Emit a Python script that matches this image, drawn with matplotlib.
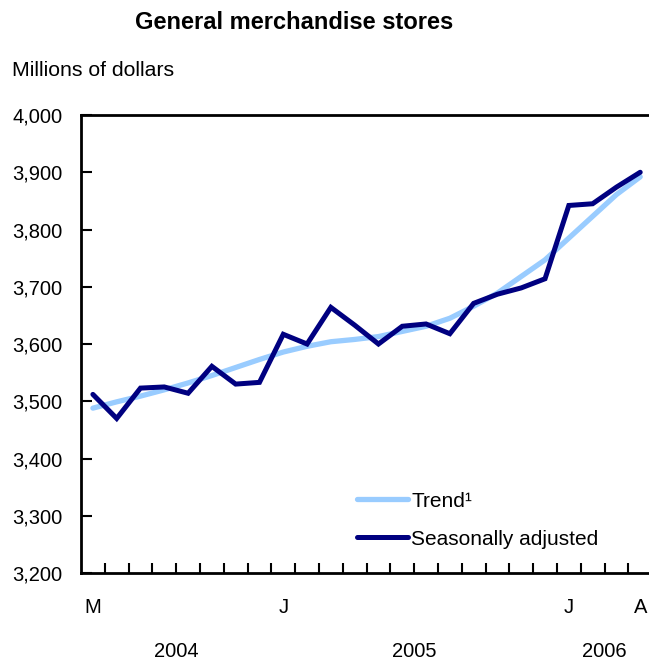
import numpy as np
import matplotlib.pyplot as plt

plt.rcParams['font.family'] = ['Liberation Sans', 'DejaVu Sans']

# May 2004 .. April 2006
months = np.arange(24)
trend = [3488, 3499, 3509, 3520, 3532, 3545, 3559, 3573, 3586, 3596, 3604, 3608,
         3613, 3622, 3631, 3645, 3666, 3689, 3718, 3747, 3785, 3823, 3861, 3892]
seas_adj = [3512, 3470, 3523, 3525, 3514, 3561, 3530, 3533, 3617, 3600, 3664, 3633,
            3600, 3631, 3635, 3618, 3671, 3687, 3698, 3714, 3842, 3845, 3874, 3900]
month_pos = [0, 8, 20, 23]
month_labels = ['M', 'J', 'J', 'A']
year_pos = [3.5, 13.5, 21.5]
year_labels = ['2004', '2005', '2006']

fig = plt.figure(figsize=(6.49, 6.61), dpi=100)
ax = fig.add_axes([0.1248, 0.1331, 0.88, 0.6929])

ax.plot(months, trend, color='#99ccff', linewidth=3.8, label='Trend¹', solid_capstyle='round')
ax.plot(months, seas_adj, color='#000080', linewidth=3.6, label='Seasonally adjusted',
        solid_capstyle='round', solid_joinstyle='miter')

ax.set_xlim(-0.5, 23.5)
ax.set_ylim(3200, 4000)
ax.set_yticks(np.arange(3200, 4001, 100))
ax.set_yticklabels(['{:,}'.format(v) for v in range(3200, 4001, 100)])
ax.tick_params(axis='y', direction='in', length=8, width=1.5, labelsize=14.5, pad=13.5)

ax.set_xticks(np.arange(0.5, 23.5, 1))
ax.set_xticklabels([])
ax.tick_params(axis='x', which='major', direction='in', length=7, width=1.5)
ax.set_xticks(month_pos, minor=True)
ax.set_xticklabels(month_labels, minor=True)
ax.tick_params(axis='x', which='minor', length=0, labelsize=14.5, pad=18)

for x, lab in zip(year_pos, year_labels):
    ax.text(x, -0.171, lab, transform=ax.get_xaxis_transform(), ha='center', va='center', fontsize=14.5)

for s in ['left', 'bottom', 'top']:
    ax.spines[s].set_linewidth(2)
ax.spines['right'].set_visible(False)

fig.text(0.453, 0.966, 'General merchandise stores', ha='center', va='center',
         fontsize=17, fontweight='bold')
fig.text(0.018, 0.894, 'Millions of dollars', ha='left', va='center', fontsize=15.3)

ax.legend(loc='center left', bbox_to_anchor=(0.521, 0.213), bbox_transform=fig.transFigure,
          frameon=False, fontsize=15, handlelength=2.45, handletextpad=0.16, labelspacing=0.92)

fig.savefig('out.png', dpi=100)
